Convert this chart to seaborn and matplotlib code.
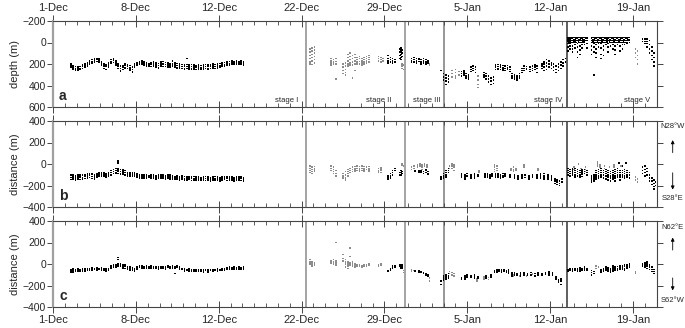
import numpy as np
import pandas as pd
import matplotlib
matplotlib.use("Agg")
import matplotlib.pyplot as plt
import seaborn as sns

# ---- data (day 0 = 1-Dec) ----
tick_days = [0, 7, 14, 21, 28, 35, 42, 49]
tick_labels = ['1-Dec', '8-Dec', '12-Dec', '22-Dec', '29-Dec', '5-Jan', '12-Jan', '19-Jan']
stage_bounds = [21.37, 29.7, 33.06, 43.45]
stage_line_colors = ['#8a8a8a', '#8a8a8a', '#7a7a7a', '#333333']
stage_names = ['stage I', 'stage II', 'stage III', 'stage IV', 'stage V']
stage_label_x = [20.7, 28.55, 32.75, 43.0, 50.5]

# each row: (day, value, value, ...)
depth_black = [
    (1.5, 200, 215, 230), (1.7, 220, 235, 250), (1.9, 225, 240, 255), (2.1, 230, 245, 255),
    (2.3, 225, 240, 250), (2.5, 210, 225, 240), (2.7, 200, 215, 230), (2.9, 190, 205, 220),
    (3.1, 170, 185, 200), (3.3, 160, 175, 190), (3.5, 150, 165, 180), (3.7, 150, 160, 175),
    (3.9, 155, 170, 185), (4.1, 180, 200, 215), (4.3, 200, 220, 240), (4.5, 210, 225, 250),
    (4.7, 190, 210, 230), (4.9, 160, 175, 190), (5.1, 150, 165, 185), (5.3, 170, 190, 210),
    (5.5, 200, 220, 240), (5.7, 220, 240, 265), (5.9, 215, 230, 250), (6.1, 200, 215, 235),
    (6.3, 210, 225, 240), (6.5, 215, 235, 255), (6.7, 230, 250, 275), (6.9, 200, 215, 230),
    (7.1, 185, 195, 210), (7.3, 180, 195, 205), (7.5, 170, 190, 205), (7.7, 180, 195, 210),
    (7.9, 190, 205, 220), (8.1, 195, 210, 225), (8.3, 190, 205, 225), (8.5, 180, 200, 220),
    (8.7, 190, 210, 230), (8.9, 195, 215, 235), (9.1, 180, 200, 220), (9.3, 175, 200, 225),
    (9.5, 185, 205, 225), (9.7, 190, 210, 230), (9.9, 200, 215, 230), (10.1, 170, 200, 220),
    (10.3, 190, 210, 230), (10.5, 195, 215, 235), (10.7, 200, 220, 235), (10.9, 205, 225, 240),
    (11.1, 210, 225, 245), (11.3, 150, 205, 225, 240), (11.5, 210, 230, 245), (11.7, 205, 225, 245),
    (11.9, 210, 230, 245), (12.1, 215, 230, 250), (12.3, 210, 230, 245), (12.5, 215, 235, 250),
    (12.7, 210, 230, 245), (12.9, 205, 225, 240), (13.1, 210, 225, 245), (13.3, 205, 220, 240),
    (13.5, 200, 220, 235), (13.7, 205, 225, 240), (13.9, 200, 220, 235), (14.1, 195, 215, 230),
    (14.3, 190, 210, 225), (14.5, 185, 205, 220), (14.7, 180, 200, 215), (14.9, 175, 195, 210),
    (15.1, 170, 190, 205), (15.3, 175, 190, 205), (15.5, 170, 185, 200), (15.7, 175, 190, 205),
    (15.9, 170, 185, 200), (16.1, 175, 190, 210),
    (28.3, 120, 150, 170, 190), (28.5, 140, 160, 180), (28.7, 150, 170, 190), (28.9, 160, 180),
    (29.3, 60, 90, 120, 150), (29.4, 50, 80, 110, 140, 160), (29.5, 70, 100, 130),
    (30.3, 150, 170, 185), (30.5, 140, 160, 180), (30.7, 150, 170, 190), (30.9, 155, 175),
    (31.1, 160, 180, 200), (31.3, 150, 170, 190), (31.5, 160, 180, 200), (31.7, 170, 190),
    (32.8, 260), (33.0, 290, 320, 350), (33.2, 300, 330, 360, 390), (33.4, 310, 340, 370),
    (34.5, 270, 290, 310), (34.7, 265, 285, 300), (34.9, 290, 310, 330), (35.1, 300, 320, 340),
    (35.3, 230, 250, 270), (35.5, 220, 240, 260), (35.7, 230, 250, 280),
    (36.4, 280, 300, 320), (36.6, 290, 310, 340), (36.8, 310, 340, 370), (37.0, 330, 360, 390),
    (37.2, 320, 350, 380), (37.4, 210, 230, 250), (37.6, 205, 225, 245), (37.8, 210, 230, 250),
    (38.0, 215, 235, 255), (38.2, 220, 240, 260), (38.4, 215, 235, 250), (38.6, 230, 250, 270),
    (38.8, 290, 310, 330), (39.0, 300, 320, 340), (39.2, 310, 330, 350), (39.4, 290, 310, 330),
    (39.6, 240, 260, 280), (39.8, 220, 240, 260), (40.0, 225, 245),
    (40.3, 230, 250, 270), (40.5, 220, 240, 260), (40.7, 210, 230, 250), (40.9, 220, 240, 280),
    (41.3, 200, 220, 240), (41.5, 180, 200, 230, 260), (41.7, 160, 190, 220, 250),
    (41.9, 170, 200, 230), (42.1, 190, 210, 240), (42.3, 200, 230, 260), (42.5, 220, 250, 280),
    (42.7, 200, 230, 260), (42.9, 180, 210, 240), (43.1, 160, 190, 220), (43.3, 150, 180),
    (43.5, -40, -25, -10, 10, 40, 80), (43.6, -40, -20, 0), (43.7, -45, -30, -15, 5, 30, 60),
    (43.8, -40, -20, 0), (43.9, -40, -20, 0, 30, 60, 90), (44.0, -45, -25, -5),
    (44.1, -45, -25, -5, 20, 50), (44.2, -40, -20, 0), (44.3, -40, -20, 10, 40, 90, 140),
    (44.4, -45, -25, -5), (44.5, -45, -25, 0, 30, 70, 110), (44.6, -40, -20, 0),
    (44.7, -40, -20, 0, 20, 50), (44.8, -45, -25, -5), (44.9, -45, -25, -5, 20),
    (45.0, -40, -20), (45.1, -40, -20, 10, 50),
    (45.5, -40, -20, 0, 30, 70, 110), (45.6, -45, -25, -5), (45.7, -45, -25, 10, 40, 90, 300),
    (45.8, -40, -20, 0), (45.9, -40, -20, 0, 20, 60, 100, 140), (46.0, -45, -25, -5),
    (46.1, -45, -25, 5, 40), (46.2, -40, -20, 0), (46.3, -40, -20, 10, 50, 110, 150),
    (46.4, -45, -25, -5), (46.5, -45, -25, 0, 30, 70, 120), (46.6, -40, -20, 0),
    (46.7, -40, -20, 0, 20), (46.8, -45, -25, -5), (46.9, -40, -20, 10, 40, 90),
    (47.0, -45, -25, -5), (47.1, -45, -25, 0, 30), (47.2, -40, -20, 0),
    (47.3, -40, -20, 0, 20, 60), (47.4, -45, -25, -5), (47.5, -45, -25, 0, 30, 70, 110),
    (47.6, -40, -20, 0), (47.7, -40, -20, 0, 20), (47.8, -45, -25, -5),
    (47.9, -45, -25, 0, 30, 80), (48.0, -40, -20, 0), (48.1, -40, -20, 0, 20, 60),
    (48.2, -45, -25, -5), (48.3, -45, -25, 0, 20), (48.4, -40, -20, 0),
    (48.5, -40, -20, 0, 10), (48.6, -45, -25), (48.7, -45, -25, 0),
    (49.8, -30, -10), (50.0, -30, -10, 10), (50.2, -30, -10, 10, 40),
    (50.4, -20, 20, 60, 100), (50.6, 40, 80, 120, 160), (50.8, 100, 140, 180, 220),
]
depth_gray = [
    (21.7, 60, 90, 120, 150, 180, 200), (21.9, 50, 80, 110, 140, 170, 205),
    (22.1, 40, 70, 100, 130, 160, 190),
    (23.5, 150, 170, 190, 210), (23.7, 160, 180, 200), (23.9, 150, 175, 200, 340),
    (24.5, 200, 230, 260, 290), (24.7, 190, 220, 250, 280, 300),
    (24.9, 110, 140, 170, 200, 220), (25.1, 100, 130, 160, 190, 210),
    (25.3, 120, 150, 180, 210, 330), (25.5, 110, 140, 170, 200, 260),
    (25.7, 140, 160, 180, 200), (25.9, 130, 150, 175, 200), (26.1, 150, 170, 190, 210),
    (26.3, 140, 160, 180, 200), (26.5, 130, 150, 170, 190), (26.7, 120, 140, 160, 180),
    (27.5, 130, 150, 170), (27.7, 140, 160, 180), (27.9, 150, 170),
    (29.5, 200, 220, 240), (29.6, 210, 250), (31.8, 200, 210),
    (33.7, 260, 290, 320), (34.0, 250, 280, 310, 330), (34.3, 270, 300),
    (35.9, 310, 350, 390, 420),
    (49.2, 60, 100, 140), (49.4, 80, 120, 160, 200),
]

ns_black = [
    (1.5, -105, -125, -145), (1.7, -100, -120, -140), (1.9, -110, -130, -150),
    (2.1, -105, -120, -140), (2.3, -100, -120, -145), (2.5, -105, -125, -140),
    (2.7, -100, -115, -135), (2.9, -95, -110, -130), (3.1, -90, -105, -125),
    (3.3, -95, -115, -135), (3.5, -100, -120, -140), (3.7, -90, -105, -120),
    (3.9, -80, -95, -110), (4.1, -80, -95, -110), (4.3, -85, -100, -115),
    (4.5, -90, -105, -120), (4.7, -85, -100, -115), (4.9, -60, -80, -100),
    (5.1, -50, -70, -90), (5.3, -40, -60, -85), (5.5, -45, -65, -90, 10, 30),
    (5.7, -50, -70, -95), (5.9, -55, -75, -95), (6.1, -60, -80, -100),
    (6.3, -80, -95, -110), (6.5, -85, -100, -115), (6.7, -80, -95, -110),
    (6.9, -85, -100, -115), (7.1, -90, -105, -120), (7.3, -100, -115, -130),
    (7.5, -105, -120, -130), (7.7, -100, -115, -130), (7.9, -105, -120, -135),
    (8.1, -110, -125), (8.3, -105, -120, -135), (8.5, -100, -115, -130),
    (8.7, -110, -125, -140), (8.9, -105, -120, -135), (9.1, -100, -115, -130),
    (9.3, -105, -120, -135), (9.5, -110, -125, -140), (9.7, -100, -120, -135),
    (9.9, -105, -120, -140), (10.1, -110, -125, -140), (10.3, -115, -130, -145),
    (10.5, -110, -125, -140), (10.7, -115, -130, -150), (10.9, -110, -130, -145),
    (11.1, -115, -135, -150), (11.3, -120, -135, -150), (11.5, -115, -130, -145),
    (11.7, -120, -135, -155), (11.9, -115, -135, -150), (12.1, -120, -140, -155),
    (12.3, -120, -135, -150), (12.5, -125, -140, -155), (12.7, -120, -135, -150),
    (12.9, -115, -135, -155), (13.1, -120, -140, -155), (13.3, -125, -140, -160),
    (13.5, -120, -135, -150), (13.7, -115, -135, -150), (13.9, -120, -140, -155),
    (14.1, -125, -140, -160), (14.3, -120, -135, -150), (14.5, -115, -130, -145),
    (14.7, -120, -135, -155), (14.9, -115, -130, -150), (15.1, -120, -140, -155),
    (15.3, -125, -140, -160), (15.5, -120, -135, -150), (15.7, -115, -130, -150),
    (15.9, -120, -135, -155), (16.1, -125, -140, -160),
    (28.3, -110, -130, -145), (28.5, -90, -110, -130), (28.7, -60, -80, -100), (28.9, -40, -60),
    (29.3, -80, -100), (29.4, -60, -80, -100), (29.5, -70, -90),
    (30.6, -60, -70), (30.9, -65, -80), (31.1, -60, -75), (31.3, -70, -90),
    (31.5, -55, -80), (31.7, -70, -95),
    (32.8, -120, -140), (33.0, -90, -110, -130), (33.2, -60, -80, -100, -120), (33.4, -40, -60, -80),
    (34.5, -95, -110, -125), (34.8, -100, -120, -140), (35.0, -90, -110), (35.3, -100, -115, -130),
    (35.6, -95, -110, -130), (35.9, -100, -115), (36.5, -90, -105, -120), (36.7, -95, -110, -125),
    (36.9, -100, -115, -130), (37.1, -95, -110), (37.4, -90, -105, -120), (37.6, -95, -110, -125),
    (37.8, -100, -115, -130), (38.0, -90, -110, -125), (38.2, -95, -110), (38.6, -100, -120),
    (39.0, -105, -120, -135), (39.3, -110, -125, -140), (39.6, -100, -120, -135), (39.9, -105, -125),
    (40.2, -110, -130, -145), (40.5, -100, -120), (40.9, -100, -115, -130), (41.2, -95, -110, -130),
    (41.5, -90, -110, -125, -140), (41.8, -100, -120, -140), (42.1, -110, -130, -150),
    (42.4, -140, -160, -180), (42.6, -150, -170, -190), (42.8, -160, -180, -200), (43.0, -140, -165),
    (43.5, -40, -60, -80, -100), (43.7, -50, -70, -90, -110), (43.9, -45, -65, -85, -105),
    (44.1, -40, -60, -80, -100, -120), (44.3, -50, -70, -90, -110), (44.5, -60, -80, -100, -120),
    (44.7, -55, -75, -95, -115), (44.9, -50, -70, -90), (45.1, -60, -80, -100),
    (45.5, -110, -130, -150, -170), (45.7, -100, -120, -140, -160),
    (45.9, -60, -80, -100, -120, -140), (46.1, -50, -70, -90, -110, -130),
    (46.3, -40, -60, -80, -100, -120), (46.5, -60, -80, -100, -130),
    (46.7, -50, -70, -90, -110, -140), (46.9, -60, -80, -100, -120, -150),
    (47.1, -70, -90, -110, -130, -160), (47.3, -60, -80, -100, -120, -140),
    (47.5, -50, -70, -90, -110, -130, -160), (47.7, -40, -60, -80, -100, -120),
    (47.8, 10), (47.9, -60, -80, -100, -120, -150), (48.1, -20, -60, -80, -100, -120),
    (48.3, -50, -70, -90, -110, -130), (48.4, 10), (48.5, -60, -80, -100, -120),
    (48.7, -80, -100, -130),
    (49.8, -30, -60, -90), (50.0, -20, -50, -80, -110), (50.2, -40, -70, -100),
    (50.4, -100, -130, -160), (50.6, -130, -160, -190), (50.8, -150, -180, -210, -230),
    (50.9, -170, -200),
]
ns_gray = [
    (21.7, -20, -40, -60, -80), (21.9, -30, -50, -70, -90), (22.1, -25, -45, -65),
    (23.5, -20, -40, -60), (23.7, -30, -50, -70, -90), (23.9, -60, -90, -110),
    (24.5, -90, -110, -130), (24.7, -70, -100, -130, -150), (24.9, -50, -70, -90, -110),
    (25.1, -40, -60, -80), (25.3, -30, -50, -70), (25.5, -25, -45, -65),
    (25.7, -20, -40, -60), (25.9, -25, -45, -65), (26.1, -20, -40, -60),
    (26.3, -25, -45, -65), (26.5, -30, -50), (26.7, -25, -45, -65),
    (27.5, -40, -60, -75), (27.7, -35, -55, -80),
    (29.5, -10, 0), (29.6, -20),
    (30.3, -30, -50), (30.5, -20, -40), (30.8, -10, -30), (31.0, 0, -20),
    (31.2, -10, -30, -50), (31.4, 0, -20), (31.6, -10, -30),
    (33.5, -20, -40), (33.7, 0, -20, -40), (33.9, -10, -30, -60), (36.0, -60, -75),
    (37.3, -10, -30, -50, -70), (37.5, -20, -40, -60), (38.7, -40, -55),
    (38.9, -30, -50, -65), (39.1, -45, -60), (39.8, -10, -30), (41.0, -40, -55),
    (44.0, -30, -50), (44.4, 0), (44.6, -40, -60), (45.0, -30, -50, -70),
    (46.0, 20, 0, -20), (46.2, -10, -30), (46.6, -20, -40), (47.0, -30),
    (47.4, -10, -30), (48.0, -20),
    (49.2, -120, -150), (49.4, -140, -170),
]

ew_black = [
    (1.5, -50, -65, -80), (1.7, -45, -60, -75), (1.9, -50, -60, -70), (2.1, -45, -55, -65),
    (2.3, -50, -60, -70), (2.5, -45, -55, -65), (2.7, -40, -55, -65), (2.9, -45, -55),
    (3.1, -40, -50, -60), (3.3, -35, -45, -55), (3.5, -40, -50), (3.7, -35, -45, -55),
    (3.9, -40, -50), (4.1, -35, -45, -55), (4.3, -40, -50, -60), (4.5, -45, -55, -65),
    (4.7, -40, -50, -60), (4.9, -20, -30, -40), (5.1, -10, -20, -30), (5.3, -5, -15, -30),
    (5.5, 0, -15, -25, 40, 60), (5.7, 5, -10, -20), (5.9, -5, -20, -35), (6.1, -10, -25, -40),
    (6.3, -25, -35, -45), (6.5, -30, -40, -55), (6.7, -35, -50, -60), (6.9, -40, -55, -70),
    (7.1, -25, -35, -45), (7.3, -20, -30), (7.5, -20, -30, -40), (7.7, -25, -35),
    (7.9, -20, -30, -40), (8.1, -25, -35), (8.3, -20, -30, -40), (8.5, -25, -35),
    (8.7, -30, -40), (8.9, -25, -35, -45), (9.1, -30, -40), (9.3, -25, -35),
    (9.5, -30, -40, -50), (9.7, -20, -30), (9.9, -25, -35), (10.1, -20, -30, -40),
    (10.3, -25, -35, -90), (10.5, -20, -30), (10.7, -25, -35, -45), (10.9, -40, -50),
    (11.1, -45, -55, -65), (11.3, -50, -60), (11.5, -45, -55, -65), (11.7, -50, -60, -70),
    (11.9, -55, -65), (12.1, -50, -60, -70), (12.3, -55, -65), (12.5, -50, -60, -70),
    (12.7, -55, -65, -75), (12.9, -50, -60), (13.1, -55, -65, -75), (13.3, -50, -60),
    (13.5, -55, -65, -70), (13.7, -50, -60), (13.9, -45, -55, -65), (14.1, -50, -60),
    (14.3, -45, -55), (14.5, -40, -50, -60), (14.7, -35, -45), (14.9, -30, -40, -50),
    (15.1, -35, -45), (15.3, -30, -40, -50), (15.5, -35, -45), (15.7, -30, -40, -50),
    (15.9, -35, -45), (16.1, -30, -40, -50),
    (28.3, -60, -70), (28.5, -40, -55), (28.7, -20, -35), (28.9, -15, -30),
    (29.3, -10, -25), (29.4, -15, -35), (29.5, -10, -25, -35),
    (30.6, -60, -70), (30.9, -65, -75), (31.1, -70, -80), (31.3, -80, -90),
    (31.5, -90, -100), (31.7, -100, -110),
    (32.8, -160, -190), (33.0, -110, -130, -150), (33.2, -100, -120, -140), (33.4, -90, -110, -130),
    (34.5, -130, -140), (34.8, -110, -125, -140), (35.0, -100, -120), (35.3, -110, -125),
    (35.6, -100, -115, -130), (35.9, -120, -135), (36.6, -110, -130), (37.0, -100, -120),
    (37.3, -60, -75), (37.5, -50, -65, -80), (37.7, -55, -70), (37.9, -50, -65, -80),
    (38.1, -55, -70), (38.3, -60, -75), (38.5, -55, -70, -85),
    (38.8, -80, -95, -110), (39.0, -85, -100), (39.2, -90, -105), (39.5, -80, -95, -110),
    (39.8, -85, -100), (40.1, -90, -105), (40.4, -80, -100), (40.7, -90, -110),
    (41.0, -85, -100), (41.3, -90, -105), (41.6, -80, -95), (41.9, -75, -90, -105),
    (42.2, -85, -100), (42.5, -120, -140), (42.7, -150, -170), (42.9, -140, -160, -190),
    (43.5, -50, -65), (43.7, -45, -60), (43.9, -40, -55, -70), (44.1, -45, -60),
    (44.3, -40, -55, -70), (44.5, -35, -50, -65), (44.7, -40, -55), (44.9, -30, -45, -60),
    (45.1, -40, -55), (45.5, -60, -80, -100), (45.7, -70, -90),
    (46.3, -50, -65, -80), (46.5, -40, -55, -70), (46.7, -30, -45, -60), (46.9, -35, -50, -65),
    (47.1, -40, -55, -75), (47.3, -20, -35, -50, -65), (47.5, -30, -45, -60),
    (47.7, -25, -40, -55), (47.9, -20, -35, -50), (48.1, -15, -30, -45),
    (48.3, -10, -25, -40, -55), (48.5, -5, -20, -35), (48.7, 0, -15, -30),
    (49.8, 0, -20), (50.0, 10, -10, -30), (50.2, 20, 0, -20, -40),
    (50.4, -10, -30, -50), (50.6, -30, -50, -70), (50.8, -50, -70, -90),
]
ew_gray = [
    (21.7, 0, 20, 40), (21.9, -20, 0, 20), (22.1, -10, 10),
    (23.5, 10, 30), (23.7, 0, 20, 40), (23.9, -10, 10, 30, 200),
    (24.5, 30, 50, 90), (24.7, 0, 20, 40, -30), (24.9, -20, 0, 20, -40),
    (25.1, -10, 10, 70, 150), (25.3, -20, 0, 20), (25.5, -15, 0, -30),
    (25.7, -20, -5), (25.9, -10, -25), (26.1, -15, -30), (26.3, -5, -20),
    (26.5, -10, -25), (26.7, 0, -15), (27.5, -5, -20), (27.7, 0, -15),
    (29.6, -60, -80), (30.3, -55, -65), (30.5, -60), (31.8, -130, -160),
    (33.5, -70, -90), (33.7, -80, -100), (33.9, -90, -110), (35.8, -140, -160),
    (36.4, -120, -140), (36.8, -125, -145), (38.9, -100, -115), (39.4, -110),
    (40.0, -110), (40.5, -95), (45.9, -20, -40), (46.1, -30), (49.2, -75, -85),
]


def expand(rows, kind):
    recs = []
    for row in rows:
        for v in row[1:]:
            recs.append({'day': row[0], 'value': v, 'kind': kind})
    return recs


panels = [
    ('depth (m)', depth_black, depth_gray),
    ('distance (m)', ns_black, ns_gray),
    ('distance (m)', ew_black, ew_gray),
]

sns.set_style('ticks')
plt.rcParams['font.family'] = ['Liberation Sans', 'DejaVu Sans']

fig = plt.figure(figsize=(6.85, 3.28), dpi=100)
L, W, H = 53 / 685, 604 / 685, 86 / 328
tops = [21, 121, 221]
palette = {'black': '#000000', 'gray': '#8c8c8c'}

axes = []
for i, (ylab, blk, gry) in enumerate(panels):
    ax = fig.add_axes([L, 1 - (tops[i] + 86) / 328, W, H])
    axes.append(ax)
    df = pd.DataFrame(expand(gry, 'gray') + expand(blk, 'black'))
    sns.scatterplot(data=df, x='day', y='value', hue='kind', palette=palette,
                    marker='s', s=1.3, linewidth=0, legend=False, ax=ax)
    ax.set_xlim(0, 51.03)
    ax.set_xlabel('')
    ax.set_ylabel(ylab, fontsize=8, labelpad=2)
    for b, c in zip(stage_bounds, stage_line_colors):
        ax.axvline(b, color=c, lw=1.1, zorder=0)
    ax.set_xticks(tick_days)
    ax.set_xticks(np.arange(0, 52), minor=True)
    ax.tick_params(axis='x', which='major', direction='inout', length=9, width=0.7,
                   color='#444444', top=True, bottom=True, labelsize=8, pad=1)
    ax.tick_params(axis='x', which='minor', direction='in', length=3, width=0.6,
                   color='#444444', top=True, bottom=True)
    ax.tick_params(axis='y', direction='out', length=4, width=0.7, color='#444444',
                   left=True, right=True, labelsize=7.5, pad=1)
    for side in ['top', 'bottom', 'right']:
        ax.spines[side].set_color('#444444')
        ax.spines[side].set_linewidth(0.8)
    ax.spines['left'].set_color('#a0a0a0')
    ax.spines['left'].set_linewidth(1.6)
    for side in ax.spines:
        ax.spines[side].set_visible(True)
    ax.text(0.01, 0.05, 'abc'[i], transform=ax.transAxes, fontsize=10,
            fontweight='bold', ha='left', va='bottom')

axes[0].set_ylim(600, -200)
axes[0].set_yticks([-200, 0, 200, 400, 600])
axes[0].set_xticklabels(tick_labels)
axes[0].tick_params(axis='x', labeltop=True, labelbottom=False)
for x, name in zip(stage_label_x, stage_names):
    axes[0].text(x, 535, name, fontsize=5.5, ha='right', va='center')

for ax in axes[1:]:
    ax.set_ylim(-400, 400)
    ax.set_yticks([-400, -200, 0, 200, 400])
axes[1].tick_params(axis='x', labelbottom=False)
axes[2].set_xticklabels(tick_labels)

# compass annotations on the right
for ax, (north, south), ys in [
    (axes[1], ('N28°W', 'S28°E'), (0.94, 0.81, 0.60, 0.43, 0.17, 0.10)),
    (axes[2], ('N62°E', 'S62°W'), (0.92, 0.84, 0.63, 0.37, 0.16, 0.08)),
]:
    xa = 1.026
    ax.text(xa, ys[0], north, transform=ax.transAxes, fontsize=5.5, ha='center', va='center')
    ax.text(xa, ys[5], south, transform=ax.transAxes, fontsize=5.5, ha='center', va='center')
    ax.annotate('', xy=(xa, ys[1]), xytext=(xa, ys[2]), xycoords='axes fraction',
                arrowprops=dict(arrowstyle='-|>', lw=0.6, color='k', mutation_scale=5),
                annotation_clip=False)
    ax.annotate('', xy=(xa, ys[4]), xytext=(xa, ys[3]), xycoords='axes fraction',
                arrowprops=dict(arrowstyle='-|>', lw=0.6, color='k', mutation_scale=5),
                annotation_clip=False)

fig.savefig('out.png', dpi=100)
